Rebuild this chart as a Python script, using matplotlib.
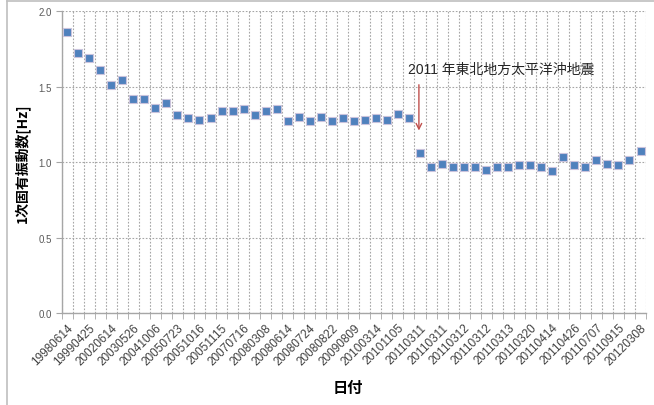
import matplotlib
matplotlib.use('Agg')
import matplotlib.pyplot as plt
from matplotlib.lines import Line2D
import numpy as np

plt.rcParams['font.family'] = ['Liberation Sans', 'Noto Sans CJK JP', 'DejaVu Sans']

# measurement dates (every other one is labelled on the axis)
labels = ['19980614', '19990425', '20020614', '20030526', '20041006', '20050723',
          '20051016', '20051115', '20070716', '20080308', '20080614', '20080724',
          '20080822', '20090809', '20100314', '20101105', '20110311', '20110311',
          '20110312', '20110312', '20110313', '20110320', '20110414', '20110426',
          '20110707', '20110915', '20120308']

# 1st natural frequency [Hz]
freq = [1.86, 1.72, 1.69, 1.61, 1.51, 1.54, 1.42, 1.42, 1.36, 1.39,
        1.31, 1.29, 1.28, 1.29, 1.34, 1.34, 1.35, 1.31, 1.34, 1.35,
        1.27, 1.30, 1.27, 1.30, 1.27, 1.29, 1.27, 1.28, 1.29, 1.28,
        1.32, 1.29, 1.06, 0.97, 0.99, 0.97, 0.97, 0.97, 0.95, 0.97,
        0.97, 0.98, 0.98, 0.97, 0.94, 1.03, 0.98, 0.97, 1.01, 0.99,
        0.98, 1.01, 1.07]

quake_x = 31.9
quake_text = '2011 年東北地方太平洋沖地震'

x = np.arange(len(freq))

fig = plt.figure(figsize=(6.54, 4.06), dpi=100)
ax = fig.add_axes([0.0943, 0.2266, 0.8935, 0.7438])

ax.plot(x, freq, linestyle='none', marker='s', markersize=5.6,
        markerfacecolor='#4f81bd', markeredgecolor='#c9c3dc', markeredgewidth=0.8,
        zorder=3)

ax.set_xlim(-0.5, len(freq) - 0.5)
ax.set_ylim(0, 2.0)

ax.set_yticks([0, 0.5, 1.0, 1.5, 2.0])
ax.set_yticklabels(['0.0', '0.5', '1.0', '1.5', '2.0'])
ax.set_xticks(x[::2])
ax.set_xticklabels(labels, rotation=45, ha='right', rotation_mode='anchor')
ax.set_xticks(np.arange(-0.5, len(freq)), minor=True)

ax.tick_params(axis='x', which='major', length=0, pad=6, labelsize=8.5, labelcolor='#404040')
ax.tick_params(axis='x', which='minor', length=4, color='#a6a6a6')
ax.tick_params(axis='y', length=4, color='#a6a6a6', labelsize=7, labelcolor='#595959', pad=3)

ax.grid(True, axis='y', which='major', linestyle=(0, (1.5, 1.5)), color='#a6a6a6', linewidth=0.8)
ax.grid(True, axis='x', which='minor', linestyle=(0, (1.5, 1.5)), color='#a6a6a6', linewidth=0.8)
ax.set_axisbelow(True)

for s in ['top', 'right']:
    ax.spines[s].set_visible(False)
for s in ['left', 'bottom']:
    ax.spines[s].set_color('#a6a6a6')
    ax.spines[s].set_linewidth(1.0)

ax.set_ylabel('1次固有振動数[Hz]', fontsize=10, fontweight='bold',
              family=['Noto Sans CJK JP', 'DejaVu Sans'])
ax.yaxis.set_label_coords(-0.054, 0.5)
ax.set_xlabel('日付', fontsize=11, fontweight='bold',
              family=['Noto Sans CJK JP', 'DejaVu Sans'])
ax.xaxis.set_label_coords(0.49, -0.22)

ax.annotate('', xy=(quake_x, 1.19), xytext=(quake_x, 1.53),
            arrowprops=dict(arrowstyle='->', color='#c0504d', lw=1.0))
ax.text(30.9, 1.62, quake_text, ha='left', va='center', fontsize=10,
        color='#262626', family=['Liberation Sans', 'Noto Sans CJK JP'])

# chart area frame
fig.add_artist(Line2D([7 / 654, 1], [1 - 2 / 406, 1 - 2 / 406],
                      transform=fig.transFigure, color='#bfbfbf', lw=1.2))
fig.add_artist(Line2D([7 / 654, 7 / 654], [0, 1 - 2 / 406],
                      transform=fig.transFigure, color='#bfbfbf', lw=1.2))

fig.savefig('out.png', dpi=100)
